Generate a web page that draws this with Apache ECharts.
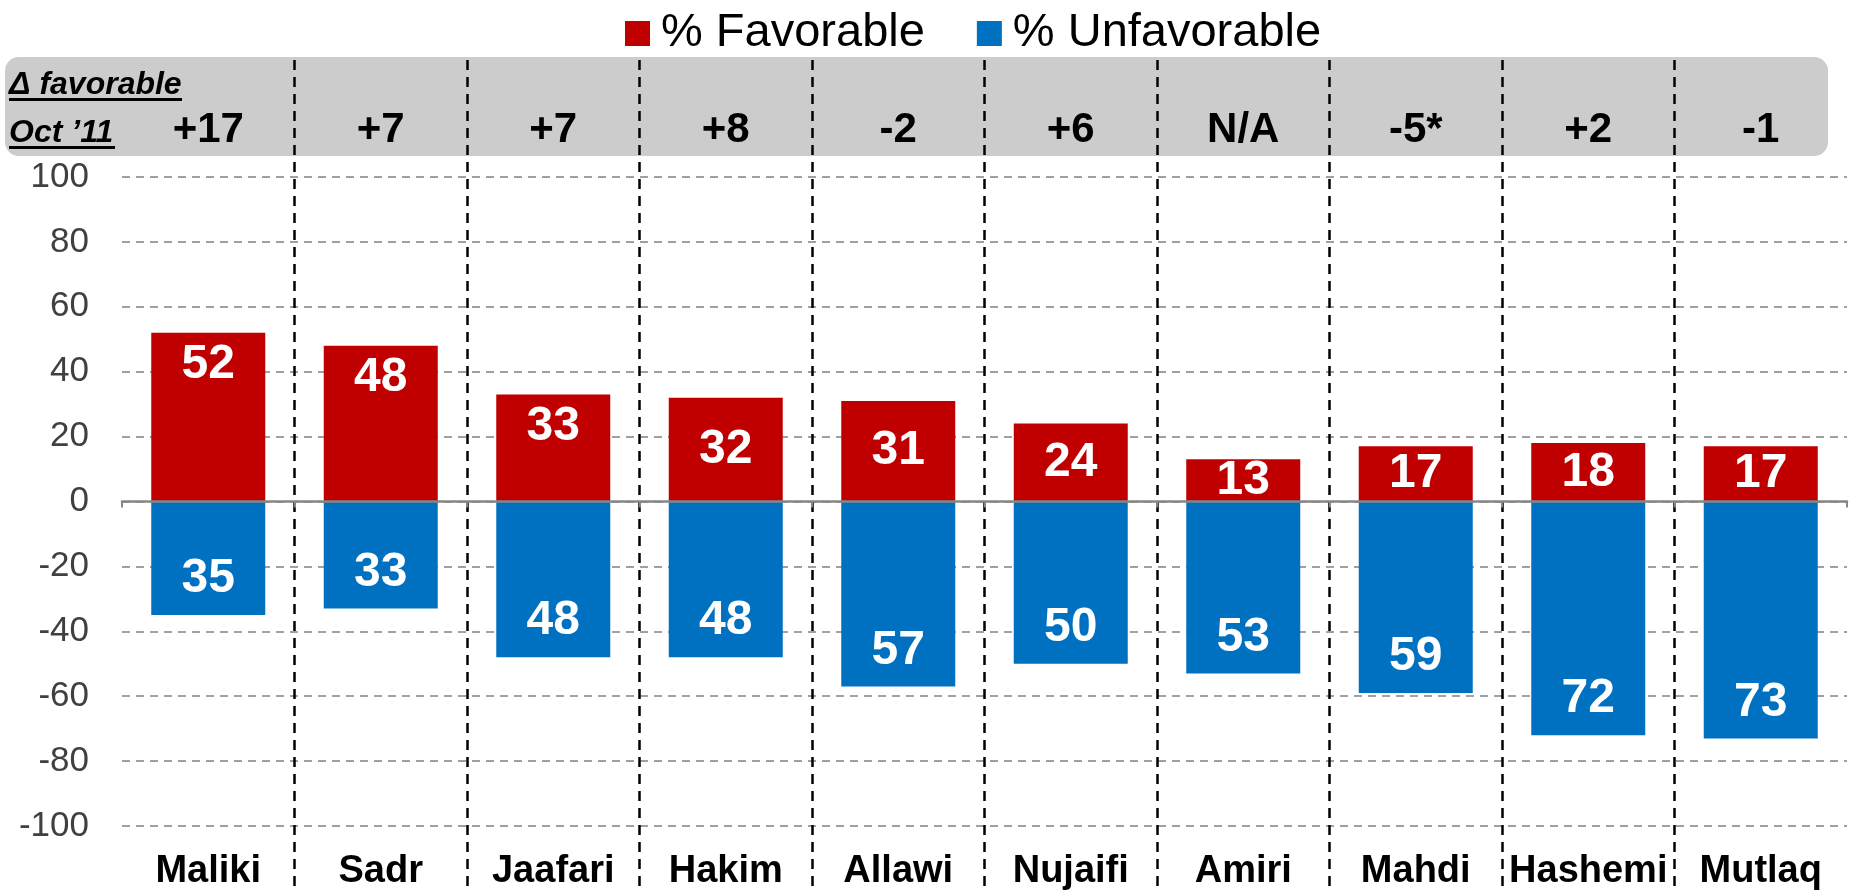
<!DOCTYPE html>
<html>
<head>
<meta charset="utf-8">
<script src="https://cdn.jsdelivr.net/npm/echarts@6/dist/echarts.min.js"></script>
<style>
  html, body { margin: 0; padding: 0; background: #fff; }
  #chart { width: 1853px; height: 892px; }
</style>
</head>
<body>
<div id="chart"></div>
<script>
const categories = ['Maliki', 'Sadr', 'Jaafari', 'Hakim', 'Allawi', 'Nujaifi', 'Amiri', 'Mahdi', 'Hashemi', 'Mutlaq'];
const favorable = [52, 48, 33, 32, 31, 24, 13, 17, 18, 17];
const unfavorable = [35, 33, 48, 48, 57, 50, 53, 59, 72, 73];
const deltaFavorable = ['+17', '+7', '+7', '+8', '-2', '+6', 'N/A', '-5*', '+2', '-1'];
const yTicks = [-100, 100, 20]; // min, max, step

const FONT = '"Liberation Sans", Arial, sans-serif';
const RED = '#C00000';
const BLUE = '#0070C0';

const chart = echarts.init(document.getElementById('chart'));

// plot area, in px
const plot = { left: 122, right: 6, top: 177, bottom: 66 };
const bandW = (1853 - plot.left - plot.right) / categories.length;

const valueLabel = { show: true, fontFamily: FONT, fontSize: 48, fontWeight: 'bold', color: '#fff' };

const option = {
    animation: false,
    legend: {
        left: 620,
        top: 5,
        icon: 'rect',
        itemWidth: 25,
        itemHeight: 25,
        itemGap: 52,
        data: ['% Favorable', '% Unfavorable'],
        textStyle: { fontFamily: FONT, fontSize: 47, color: '#000', padding: [0, 0, 0, 6] }
    },
    graphic: [
        { type: 'rect', z: -10, shape: { x: 5, y: 57, width: 1823, height: 99, r: 14 }, style: { fill: '#cccccc' } },
        { type: 'text', z: 5, x: 9, y: 69, style: { text: 'Δ favorable', font: 'italic bold 32px ' + FONT, fill: '#000' } },
        { type: 'rect', z: 5, shape: { x: 9, y: 98, width: 173, height: 3 }, style: { fill: '#000' } },
        { type: 'text', z: 5, x: 9, y: 117, style: { text: 'Oct \u201911', font: 'italic bold 32px ' + FONT, fill: '#000' } },
        { type: 'rect', z: 5, shape: { x: 9, y: 146, width: 106, height: 3 }, style: { fill: '#000' } }
    ],
    grid: [
        { left: plot.left, right: plot.right, top: plot.top, bottom: plot.bottom },
        { left: plot.left + bandW, right: plot.right + bandW, top: 60, bottom: 0 },
        { left: plot.left, right: plot.right, top: plot.top, bottom: plot.bottom }
    ],
    xAxis: [
        {
            type: 'category', gridIndex: 0, position: 'bottom', data: categories,
            axisLine: { show: false, onZero: false }, axisTick: { show: false },
            axisLabel: { interval: 0, margin: 27, fontFamily: FONT, fontSize: 38, fontWeight: 'bold', color: '#000' }
        },
        {
            type: 'category', gridIndex: 0, position: 'top', data: categories,
            axisLine: { show: false }, axisTick: { show: false },
            axisLabel: {
                interval: 0, margin: 26, fontFamily: FONT, fontSize: 42, fontWeight: 'bold', color: '#000',
                formatter: (v, i) => deltaFavorable[i]
            }
        },
        {
            type: 'value', gridIndex: 1, min: 1, max: categories.length - 1, interval: 1,
            axisLine: { show: false }, axisTick: { show: false }, axisLabel: { show: false },
            splitLine: { show: true, lineStyle: { color: '#000', width: 2.5, type: [10, 7] } }
        },
        {
            type: 'category', gridIndex: 2, data: categories, z: 5,
            axisLine: { show: true, onZero: true, lineStyle: { color: '#868686', width: 2.5 } },
            axisTick: { show: true, length: 6, lineStyle: { color: '#868686', width: 2 } },
            axisLabel: { show: false }
        }
    ],
    yAxis: [
        {
            type: 'value', gridIndex: 0, min: yTicks[0], max: yTicks[1], interval: yTicks[2],
            axisLine: { show: false }, axisTick: { show: false },
            axisLabel: { margin: 33, fontFamily: FONT, fontSize: 35, color: '#404040' },
            splitLine: { show: true, lineStyle: { color: '#a0a0a0', width: 2, type: [8, 6] } }
        },
        { type: 'value', gridIndex: 1, min: 0, max: 1, show: false },
        { type: 'value', gridIndex: 2, min: yTicks[0], max: yTicks[1], show: false }
    ],
    series: [
        {
            name: '% Favorable', type: 'bar', stack: 'fav', xAxisIndex: 0, yAxisIndex: 0,
            barWidth: 114,
            // short bars keep the number centred, tall ones pin it near the top
            data: favorable.map(v => ({
                value: v,
                label: v > 32 ? { position: 'insideTop', distance: 8 } : { position: 'inside' }
            })),
            itemStyle: { color: RED },
            label: valueLabel
        },
        {
            name: '% Unfavorable', type: 'bar', stack: 'fav', xAxisIndex: 0, yAxisIndex: 0,
            barWidth: 114, data: unfavorable.map(v => -v),
            itemStyle: { color: BLUE },
            label: Object.assign({}, valueLabel, {
                position: 'insideBottom', distance: 12,
                formatter: p => Math.abs(p.value)
            })
        }
    ]
};

chart.setOption(option);
window.addEventListener('resize', () => chart.resize());
</script>
</body>
</html>
